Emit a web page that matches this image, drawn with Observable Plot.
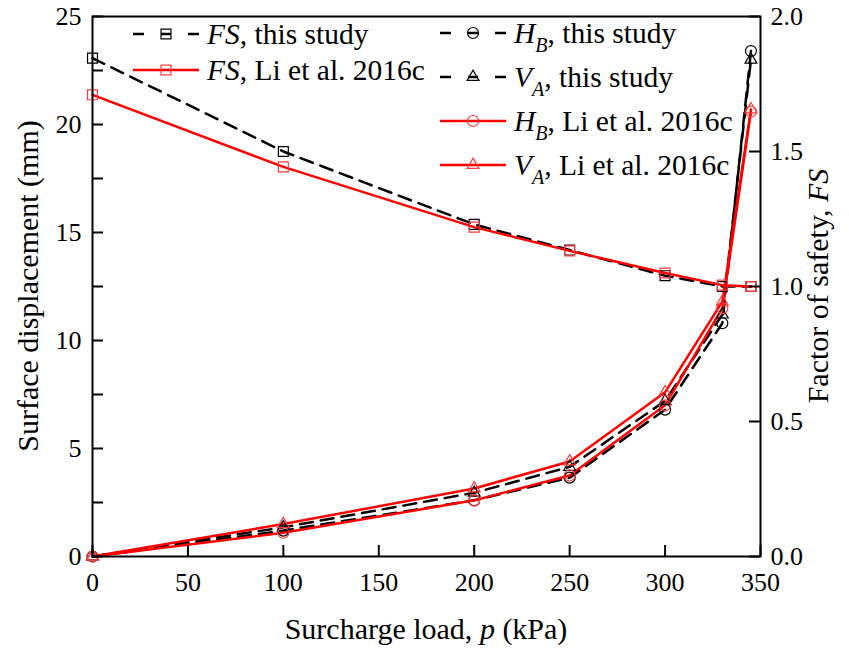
<!DOCTYPE html>
<html><head><meta charset="utf-8">
<script src="https://cdn.jsdelivr.net/npm/d3@7"></script>
<script src="https://cdn.jsdelivr.net/npm/@observablehq/plot@0.6"></script>
<style>body{margin:0;background:#fff} svg{display:block} svg text{font-family:"Liberation Serif","Times New Roman","DejaVu Serif",serif !important}</style>
</head><body><div id="chart"></div>
<script>
const loads = [0, 100, 200, 250, 300, 330, 345];
const fsThisStudy = [1.846, 1.50, 1.23, 1.135, 1.04, 1.0, 1.0];
const fsLi = [1.71, 1.443, 1.22, 1.132, 1.05, 1.005, 1.0];
const hbThisStudy = [0, 1.2, 2.6, 3.65, 6.8, 10.8, 23.4];
const vaThisStudy = [0, 1.35, 2.95, 4.15, 7.2, 11.2, 23.0];
const hbLi = [0, 1.1, 2.6, 3.75, 7.0, 11.5, 20.6];
const vaLi = [0, 1.5, 3.15, 4.4, 7.6, 11.8, 20.7];

const xTicks = [0, 50, 100, 150, 200, 250, 300, 350];
const yTicks = [0, 5, 10, 15, 20, 25];
const yMinorTicks = [2.5, 7.5, 12.5, 17.5, 22.5];
const fsTicks = [0, 0.5, 1.0, 1.5, 2.0];
const MM_MAX = 25, FS_MAX = 2;
const fsToMm = v => v * MM_MAX / FS_MAX;

const series = [
  {key: "fsThis", values: fsThisStudy, fs: true, color: "#000", mark: "#000", dashed: true, symbol: "square", r: 5.6},
  {key: "hbThis", values: hbThisStudy, fs: false, color: "#000", mark: "#000", dashed: true, symbol: "circle", r: 5.5},
  {key: "vaThis", values: vaThisStudy, fs: false, color: "#000", mark: "#000", dashed: true, symbol: "triangle", r: 4.4},
  {key: "fsLi", values: fsLi, fs: true, color: "#ff0000", mark: "#ff3a3a", dashed: false, symbol: "square", r: 5.6},
  {key: "hbLi", values: hbLi, fs: false, color: "#ff0000", mark: "#ff3a3a", dashed: false, symbol: "circle", r: 5.5},
  {key: "vaLi", values: vaLi, fs: false, color: "#ff0000", mark: "#ff3a3a", dashed: false, symbol: "triangle", r: 4.4}
];

const rows = series.map(s => loads.map((p, i) => ({p, y: s.fs ? fsToMm(s.values[i]) : s.values[i]})));

const W = 849, H = 651, mL = 92, mR = 89, mT = 16, mB = 95;
const plotW = W - mL - mR, plotH = H - mT - mB;
const TL = 11;
const FONT = "'Liberation Serif', 'Times New Roman', 'DejaVu Serif', serif";

const lineMarks = [];
const dotMarks = [];
series.forEach((s, i) => {
  lineMarks.push(Plot.line(rows[i], {x: "p", y: "y", stroke: s.color, strokeWidth: 2.5,
    strokeDasharray: s.dashed ? "13,8" : null, strokeLinejoin: "round"}));
  dotMarks.push(Plot.dot(rows[i], {x: "p", y: "y", symbol: () => s.symbol, r: s.r, stroke: s.mark, strokeWidth: 1.2, fill: "none"}));
});

const chart = Plot.plot({
  width: W, height: H,
  marginLeft: mL, marginRight: mR, marginTop: mT, marginBottom: mB,
  style: {fontFamily: FONT, fontSize: "26px", color: "#000", background: "#fff"},
  x: {domain: [0, 350]},
  y: {domain: [0, MM_MAX]},
  marks: [
    ...lineMarks,
    ...dotMarks,
    Plot.frame({stroke: "#000", strokeWidth: 2}),
    Plot.tickX(xTicks, {x: d => d, stroke: "#000", strokeWidth: 2, insetTop: plotH - TL}),
    Plot.tickY(yTicks.concat(yMinorTicks), {y: d => d, stroke: "#000", strokeWidth: 2, insetRight: plotW - TL}),
    Plot.tickY(fsTicks.map(fsToMm), {y: d => d, stroke: "#000", strokeWidth: 2, insetLeft: plotW - TL}),
    Plot.axisX({ticks: xTicks, tickSize: 0, tickPadding: 16, label: null, tickFormat: d => String(d)}),
    Plot.axisY({ticks: yTicks, tickSize: 0, tickPadding: 11, label: null, tickFormat: d => String(d)}),
    Plot.axisY({anchor: "right", ticks: fsTicks.map(fsToMm), tickSize: 0, tickPadding: 10, label: null,
      tickFormat: d => (d * FS_MAX / MM_MAX).toFixed(1)})
  ]
});
document.getElementById("chart").appendChild(chart);

const svg = d3.select(chart);

function richText(g, x, y, parts, opts = {}) {
  const size = opts.size || 29.5;
  const t = g.append("text").attr("x", x).attr("y", y)
    .attr("font-family", FONT).attr("font-size", size).attr("fill", "#000")
    .attr("text-anchor", opts.anchor || "start");
  if (opts.transform) t.attr("transform", opts.transform);
  let shifted = 0;
  parts.forEach(pt => {
    const ts = t.append("tspan").text(pt.t);
    if (pt.i) ts.attr("font-style", "italic");
    if (pt.sub) {
      ts.attr("font-size", 20).attr("dy", 9 - shifted);
      shifted = 9;
    } else if (shifted) {
      ts.attr("dy", -shifted);
      shifted = 0;
    }
  });
  return t;
}

// axis titles
const titles = svg.append("g");
richText(titles, mL + plotW / 2, 639, [{t: "Surcharge load, "}, {t: "p", i: true}, {t: " (kPa)"}], {anchor: "middle", size: 30});
richText(titles, 0, 0, [{t: "Surface displacement (mm)"}], {anchor: "middle", size: 30, transform: `translate(38,${mT + plotH / 2}) rotate(-90)`});
richText(titles, 0, 0, [{t: "Factor of safety, "}, {t: "FS", i: true}], {anchor: "middle", size: 30, transform: `translate(828,${mT + plotH / 2}) rotate(-90)`});

// legend
const legendItems = [
  {s: series[0], x: 133, y: 34, parts: [{t: "FS", i: true}, {t: ", this study"}]},
  {s: series[3], x: 133, y: 70, parts: [{t: "FS", i: true}, {t: ", Li et al. 2016c"}]},
  {s: series[1], x: 440, y: 33, parts: [{t: "H", i: true}, {t: "B", i: true, sub: true}, {t: ", this study"}]},
  {s: series[2], x: 440, y: 77, parts: [{t: "V", i: true}, {t: "A", i: true, sub: true}, {t: ", this study"}]},
  {s: series[4], x: 440, y: 121, parts: [{t: "H", i: true}, {t: "B", i: true, sub: true}, {t: ", Li et al. 2016c"}]},
  {s: series[5], x: 440, y: 165, parts: [{t: "V", i: true}, {t: "A", i: true, sub: true}, {t: ", Li et al. 2016c"}]}
];
const lg = svg.append("g");
const symMap = {square: d3.symbolSquare, circle: d3.symbolCircle, triangle: d3.symbolTriangle};
legendItems.forEach(it => {
  const s = it.s, len = 66, mx = it.x + len / 2;
  if (s.dashed) {
    [[0, 11], [28, 38], [55, 66]].forEach(([a, b]) => {
      lg.append("line").attr("x1", it.x + a).attr("x2", it.x + b).attr("y1", it.y).attr("y2", it.y)
        .attr("stroke", s.color).attr("stroke-width", 2.5);
    });
  } else {
    lg.append("line").attr("x1", it.x).attr("x2", it.x + len).attr("y1", it.y).attr("y2", it.y)
      .attr("stroke", s.color).attr("stroke-width", 2.5);
  }
  lg.append("path").attr("d", d3.symbol(symMap[s.symbol], Math.PI * s.r * s.r)())
    .attr("transform", `translate(${mx},${it.y})`).attr("fill", "none")
    .attr("stroke", s.mark).attr("stroke-width", 1.2);
  richText(lg, it.x + len + 8, it.y + 10, it.parts);
});
</script></body></html>
